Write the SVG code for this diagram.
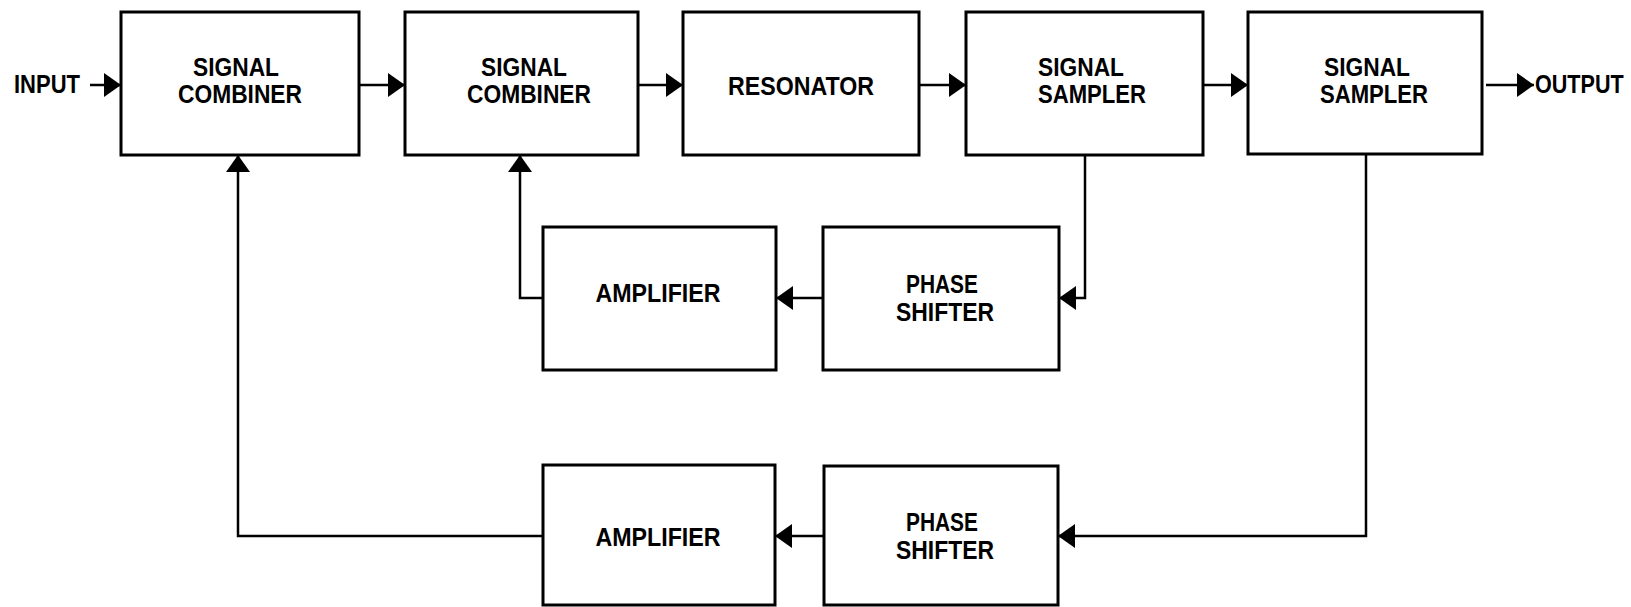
<svg xmlns="http://www.w3.org/2000/svg" width="1631" height="607" viewBox="0 0 1631 607">
  <style>
    .box { fill: #ffffff; stroke: #000000; stroke-width: 3; }
    .wire { fill: none; stroke: #000000; stroke-width: 2.5; stroke-linejoin: miter; }
    .lbl { font-family: "Liberation Sans", Arial, sans-serif; font-weight: bold; font-size: 26px; fill: #000000; text-anchor: middle; }
    .io { text-anchor: start; }
  </style>
  <defs>
    <marker id="head" viewBox="0 0 17 24" refX="17" refY="12" markerWidth="17" markerHeight="24" markerUnits="userSpaceOnUse" orient="auto">
      <path d="M0,0 L17,12 L0,24 Z" fill="#000000"/>
    </marker>
  </defs>

  <!-- signal paths -->
  <g id="connectors">
    <path class="wire" d="M90,85 H121" marker-end="url(#head)"/>
    <path class="wire" d="M359,85 H405" marker-end="url(#head)"/>
    <path class="wire" d="M638,85 H683" marker-end="url(#head)"/>
    <path class="wire" d="M919,85 H966" marker-end="url(#head)"/>
    <path class="wire" d="M1203,85 H1248" marker-end="url(#head)"/>
    <path class="wire" d="M1486,85 H1534" marker-end="url(#head)"/>
    <!-- inner feedback loop -->
    <path class="wire" d="M1085,155 V298 H1059" marker-end="url(#head)"/>
    <path class="wire" d="M823,298 H776" marker-end="url(#head)"/>
    <path class="wire" d="M543,298 H520 V155" marker-end="url(#head)"/>
    <!-- outer feedback loop -->
    <path class="wire" d="M1366,155 V536 H1058" marker-end="url(#head)"/>
    <path class="wire" d="M824,536 H775" marker-end="url(#head)"/>
    <path class="wire" d="M543,536 H238 V155" marker-end="url(#head)"/>
  </g>

  <g id="input-label">
    <text class="lbl io" x="14" y="93" textLength="66" lengthAdjust="spacingAndGlyphs">INPUT</text>
  </g>
  <g id="output-label">
    <!-- narrowed horizontally so the label stays inside the right edge -->
    <text class="lbl io" transform="translate(1535,93) scale(0.83,1)" x="0" y="0">OUTPUT</text>
  </g>

  <g id="combiner-1">
    <rect class="box" x="121" y="12" width="238" height="143"/>
    <text class="lbl" x="236" y="76" textLength="86" lengthAdjust="spacingAndGlyphs">SIGNAL</text>
    <text class="lbl" x="240" y="103" textLength="124" lengthAdjust="spacingAndGlyphs">COMBINER</text>
  </g>

  <g id="combiner-2">
    <rect class="box" x="405" y="12" width="233" height="143"/>
    <text class="lbl" x="524" y="76" textLength="86" lengthAdjust="spacingAndGlyphs">SIGNAL</text>
    <text class="lbl" x="529" y="103" textLength="124" lengthAdjust="spacingAndGlyphs">COMBINER</text>
  </g>

  <g id="resonator">
    <rect class="box" x="683" y="12" width="236" height="143"/>
    <text class="lbl" x="801" y="95" textLength="146" lengthAdjust="spacingAndGlyphs">RESONATOR</text>
  </g>

  <g id="sampler-1">
    <rect class="box" x="966" y="12" width="237" height="143"/>
    <text class="lbl" x="1081" y="76" textLength="86" lengthAdjust="spacingAndGlyphs">SIGNAL</text>
    <text class="lbl" x="1092" y="103" textLength="108" lengthAdjust="spacingAndGlyphs">SAMPLER</text>
  </g>

  <g id="sampler-2">
    <rect class="box" x="1248" y="12" width="234" height="142"/>
    <text class="lbl" x="1367" y="76" textLength="86" lengthAdjust="spacingAndGlyphs">SIGNAL</text>
    <text class="lbl" x="1374" y="103" textLength="108" lengthAdjust="spacingAndGlyphs">SAMPLER</text>
  </g>

  <g id="amplifier-1">
    <rect class="box" x="543" y="227" width="233" height="143"/>
    <text class="lbl" x="658" y="302" textLength="125" lengthAdjust="spacingAndGlyphs">AMPLIFIER</text>
  </g>

  <g id="phase-shifter-1">
    <rect class="box" x="823" y="227" width="236" height="143"/>
    <text class="lbl" x="942" y="293" textLength="72" lengthAdjust="spacingAndGlyphs">PHASE</text>
    <text class="lbl" x="945" y="321" textLength="98" lengthAdjust="spacingAndGlyphs">SHIFTER</text>
  </g>

  <g id="amplifier-2">
    <rect class="box" x="543" y="465" width="232" height="140"/>
    <text class="lbl" x="658" y="546" textLength="125" lengthAdjust="spacingAndGlyphs">AMPLIFIER</text>
  </g>

  <g id="phase-shifter-2">
    <rect class="box" x="824" y="466" width="234" height="139"/>
    <text class="lbl" x="942" y="531" textLength="72" lengthAdjust="spacingAndGlyphs">PHASE</text>
    <text class="lbl" x="945" y="559" textLength="98" lengthAdjust="spacingAndGlyphs">SHIFTER</text>
  </g>
</svg>
